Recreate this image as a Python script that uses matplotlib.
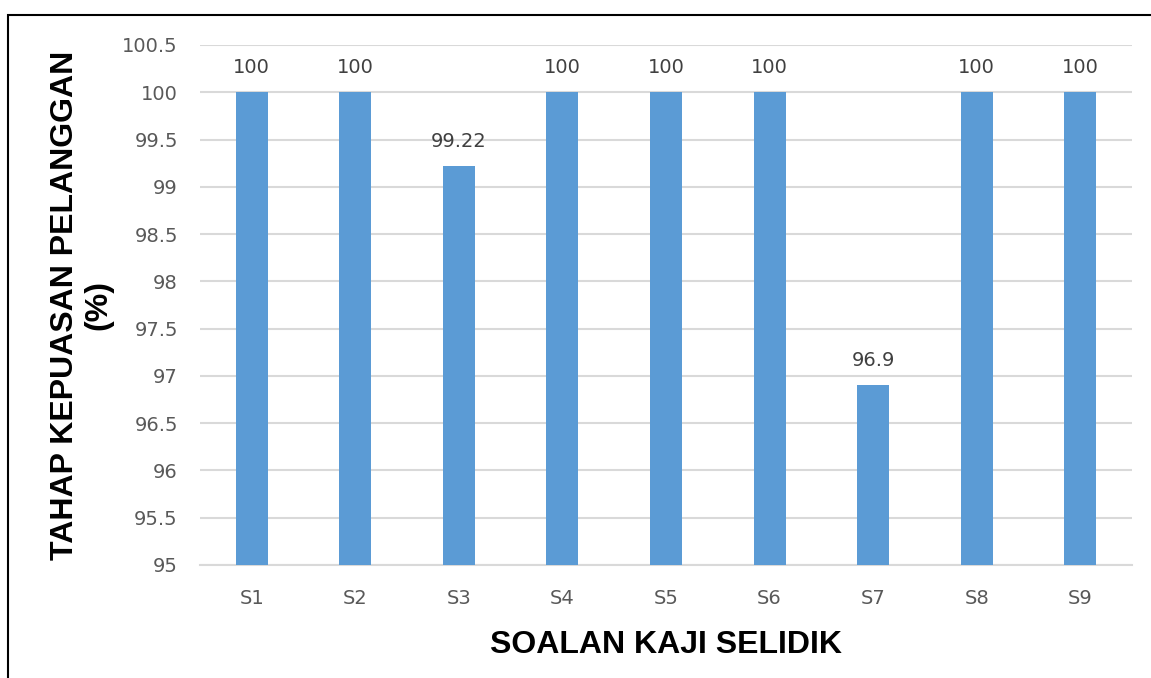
import matplotlib
matplotlib.use("Agg")
import matplotlib.pyplot as plt
from matplotlib.patches import Rectangle

categories = ["S1", "S2", "S3", "S4", "S5", "S6", "S7", "S8", "S9"]
values = [100, 100, 99.22, 100, 100, 100, 96.9, 100, 100]
value_labels = ["100", "100", "99.22", "100", "100", "100", "96.9", "100", "100"]
yticks = [95, 95.5, 96, 96.5, 97, 97.5, 98, 98.5, 99, 99.5, 100, 100.5]
ytick_labels = ["95", "95.5", "96", "96.5", "97", "97.5", "98", "98.5", "99", "99.5", "100", "100.5"]

fig = plt.figure(figsize=(11.51, 6.78), dpi=100)
ax = fig.add_axes([200/1151, 1-565/678, 932/1151, 520/678])

x = list(range(len(categories)))
ax.bar(x, [v - 95 for v in values], bottom=95, width=0.31, color="#5b9bd5", zorder=3)
ax.set_xlim(-0.5, len(categories) - 0.5)
ax.set_ylim(95, 100.5)
ax.set_yticks(yticks)
ax.set_yticklabels(ytick_labels)
ax.set_xticks(x)
ax.set_xticklabels(categories)
ax.grid(axis="y", color="#d9d9d9", linewidth=1.5, zorder=0)
for s in ["top", "right", "left"]:
    ax.spines[s].set_visible(False)
ax.spines["bottom"].set_color("#d9d9d9")
ax.spines["bottom"].set_linewidth(1.5)
ax.tick_params(axis="both", length=0, labelsize=14, labelcolor="#595959")
ax.tick_params(axis="y", pad=16)
ax.tick_params(axis="x", pad=17)

for xi, v, lab in zip(x, values, value_labels):
    ax.annotate(lab, (xi, v), xytext=(0, 11), textcoords="offset points",
                ha="center", va="bottom", fontsize=14, color="#404040")

ax.set_xlabel("SOALAN KAJI SELIDIK", fontsize=23, fontweight="bold",
              family="Liberation Sans", labelpad=16)
ax.set_ylabel("TAHAP KEPUASAN PELANGGAN\n(%)", fontsize=23, fontweight="bold",
              family="Liberation Sans", labelpad=6, linespacing=1.15)

fig.patches.append(Rectangle((8/1151, -0.1), 1.2, 1 - 15/678 + 0.1,
                             transform=fig.transFigure, fill=False,
                             edgecolor="black", linewidth=1.5))

fig.savefig("out.png", dpi=100)
